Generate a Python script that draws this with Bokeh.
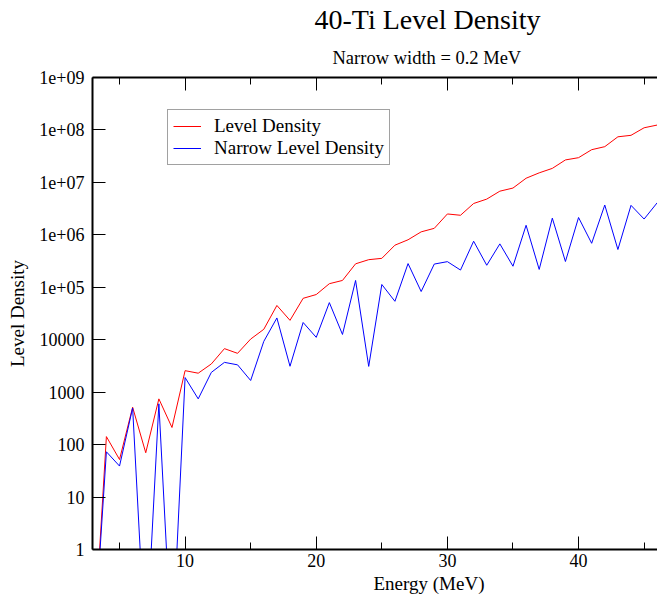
from bokeh.plotting import figure
from bokeh.models import (Range1d, LinearAxis, FixedTicker, Title, Legend, LegendItem,
                          CustomJSTickFormatter)
from bokeh.embed import file_html
from bokeh.resources import INLINE

# Data
energy = list(range(3, 47))
level_density = [0.01, 142, 52, 516, 70, 745, 212, 2570, 2300, 3450,
                 6760, 5500, 10300, 15800, 45000, 23400, 61600, 72700, 117000, 135000,
                 280000, 336000, 356000, 635000, 805000, 1.14e6, 1.33e6, 2.5e6, 2.36e6, 3.96e6,
                 4.8e6, 6.8e6, 7.8e6, 1.2e7, 1.52e7, 1.85e7, 2.68e7, 2.96e7, 4.2e7, 4.8e7,
                 7.4e7, 7.9e7, 1.1e8, 1.24e8]
narrow_density = [0.01, 73, 39, 500, 0.01, 600, 0.01, 1900, 745, 2380,
                  3700, 3320, 1670, 9300, 26000, 3120, 21300, 11100, 51000, 12600,
                  135000, 3100, 113000, 54000, 283000, 83000, 277000, 308000, 213000, 755000,
                  263000, 672000, 252000, 1.52e6, 219000, 2.08e6, 310000, 2.14e6, 690000, 3.7e6,
                  525000, 3.65e6, 2.0e6, 4.1e6]
x_major_ticks = [10, 20, 30, 40, 50]
x_minor_ticks = [5, 15, 25, 35, 45]
y_ticks = [1, 10, 100, 1000, 10000, 100000, 1000000, 10000000, 100000000, 1000000000]
y_tick_labels = ["1", "10", "100", "1000", "10000", "1e+05", "1e+06", "1e+07", "1e+08", "1e+09"]

FONT = "Liberation Serif"

p = figure(width=657, height=594, x_range=Range1d(2.94, 46.02), y_range=Range1d(1, 1e9),
           y_axis_type="log", output_backend="svg", toolbar_location=None,
           min_border_left=92, min_border_right=0, min_border_top=10, min_border_bottom=0,
           background_fill_color="white", border_fill_color="white")
p.title.visible = False
p.outline_line_color = None
p.xgrid.visible = False
p.ygrid.visible = False

r_red = p.line(energy, level_density, line_color="#ff0000", line_width=1)
r_blue = p.line(energy, narrow_density, line_color="#0000ff", line_width=1)

# bottom axis
xa = p.xaxis[0]
xa.ticker = FixedTicker(ticks=x_major_ticks, minor_ticks=x_minor_ticks)
xa.major_tick_in = 13
xa.major_tick_out = 0
xa.minor_tick_in = 7
xa.minor_tick_out = 0
xa.axis_line_width = 2
xa.major_tick_line_width = 1
xa.axis_line_color = "black"
xa.major_label_text_font = FONT
xa.major_label_text_font_size = "18px"
xa.major_label_text_color = "black"
xa.major_label_standoff = 4

# top axis (frame), no labels
ta = LinearAxis(ticker=FixedTicker(ticks=x_major_ticks, minor_ticks=x_minor_ticks),
                formatter=CustomJSTickFormatter(code="return ''"),
                major_label_text_font_size="1px", major_label_standoff=3,
                major_tick_in=13, major_tick_out=0, minor_tick_in=7, minor_tick_out=0,
                axis_line_width=2, axis_line_color="black")
p.add_layout(ta, "above")

# left axis
ya = p.yaxis[0]
ya.ticker = FixedTicker(ticks=y_ticks, minor_ticks=[])
ya.major_label_overrides = {t: l for t, l in zip(y_ticks, y_tick_labels)}
ya.major_tick_in = 13
ya.major_tick_out = 0
ya.minor_tick_line_color = None
ya.axis_line_width = 2
ya.axis_line_color = "black"
ya.major_label_text_font = FONT
ya.major_label_text_font_size = "18px"
ya.major_label_text_color = "black"
ya.major_label_standoff = 8
ya.axis_label = "Level Density"
ya.axis_label_text_font = FONT
ya.axis_label_text_font_size = "19px"
ya.axis_label_text_font_style = "normal"
ya.axis_label_text_color = "black"
ya.axis_label_standoff = 8

# titles
p.add_layout(Title(text="Narrow width = 0.2 MeV", align="left", offset=240,
                   text_font=FONT, text_font_size="18.5px", text_font_style="normal",
                   text_color="black", standoff=20), "above")
p.add_layout(Title(text="40-Ti Level Density", align="left", offset=222,
                   text_font=FONT, text_font_size="28px", text_font_style="normal",
                   text_color="black", standoff=2), "above")
p.add_layout(Title(text="Energy (MeV)", align="left", offset=281,
                   text_font=FONT, text_font_size="19px", text_font_style="normal",
                   text_color="black", standoff=2), "below")

legend = Legend(items=[LegendItem(label="Level Density", renderers=[r_red]),
                       LegendItem(label="Narrow Level Density", renderers=[r_blue])],
                location=(75, 384), margin=0, padding=5, spacing=0,
                glyph_width=28, glyph_height=20, label_height=20, label_standoff=13,
                label_text_font=FONT, label_text_font_size="19px", label_text_color="black",
                border_line_color="#444444", border_line_width=1,
                background_fill_color="white", background_fill_alpha=1)
p.add_layout(legend, "center")

open("out.html", "w").write(file_html(p, INLINE))
